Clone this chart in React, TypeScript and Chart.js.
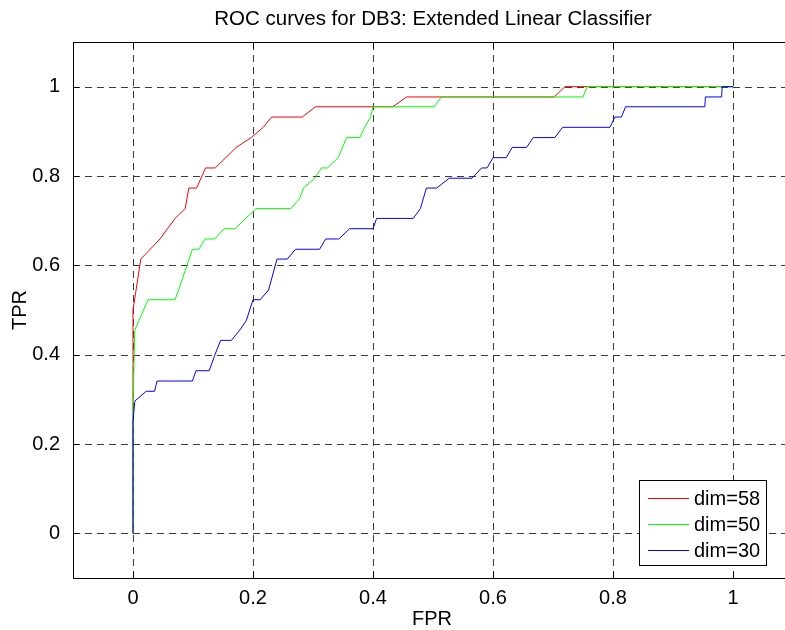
import { useEffect, useRef } from "react";
import { Chart, registerables } from "chart.js";

Chart.register(...registerables);

const TITLE = "ROC curves for DB3: Extended Linear Classifier";
const X_LABEL = "FPR";
const Y_LABEL = "TPR";
const X_TICKS = [0, 0.2, 0.4, 0.6, 0.8, 1];
const Y_TICKS = [0, 0.2, 0.4, 0.6, 0.8, 1];
const X_MIN = -0.1;
const X_MAX = 1.1;
const Y_MIN = -0.1;
const Y_MAX = 1.1;

const SERIES_NAMES = ["dim=58", "dim=50", "dim=30"];
const SERIES_COLORS = ["#ff0000", "#00ff00", "#0000ff"];

const FPR_58 = [0, 0, 0.013, 0.045, 0.07, 0.087, 0.093, 0.106, 0.121, 0.137, 0.172, 0.197, 0.217, 0.231, 0.282, 0.304, 0.433, 0.456, 0.702, 0.72, 1];
const TPR_58 = [0, 0.5, 0.614, 0.659, 0.705, 0.727, 0.773, 0.773, 0.818, 0.818, 0.864, 0.886, 0.909, 0.932, 0.932, 0.955, 0.955, 0.977, 0.977, 1, 1];

const FPR_50 = [0, 0, 0.003, 0.025, 0.07, 0.076, 0.09, 0.099, 0.11, 0.12, 0.136, 0.152, 0.17, 0.205, 0.263, 0.278, 0.284, 0.303, 0.314, 0.324, 0.342, 0.356, 0.378, 0.386, 0.396, 0.4, 0.502, 0.514, 0.75, 0.757, 1];
const TPR_50 = [0, 0.29, 0.455, 0.523, 0.523, 0.545, 0.6, 0.636, 0.636, 0.659, 0.659, 0.682, 0.682, 0.727, 0.727, 0.75, 0.773, 0.795, 0.818, 0.818, 0.841, 0.886, 0.886, 0.909, 0.932, 0.955, 0.955, 0.977, 0.977, 1, 1];

const FPR_30 = [0, 0, 0.003, 0.022, 0.036, 0.04, 0.099, 0.105, 0.127, 0.136, 0.146, 0.164, 0.178, 0.189, 0.2, 0.212, 0.226, 0.24, 0.257, 0.271, 0.311, 0.321, 0.343, 0.361, 0.4, 0.406, 0.467, 0.479, 0.489, 0.506, 0.527, 0.565, 0.581, 0.59, 0.6, 0.622, 0.632, 0.656, 0.667, 0.703, 0.716, 0.795, 0.803, 0.814, 0.821, 0.953, 0.954, 0.981, 0.982, 1];
const TPR_30 = [0, 0.25, 0.296, 0.318, 0.318, 0.341, 0.341, 0.364, 0.364, 0.398, 0.432, 0.432, 0.455, 0.477, 0.523, 0.523, 0.545, 0.614, 0.614, 0.636, 0.636, 0.659, 0.659, 0.682, 0.682, 0.705, 0.705, 0.727, 0.773, 0.773, 0.795, 0.795, 0.818, 0.818, 0.841, 0.841, 0.864, 0.864, 0.886, 0.886, 0.909, 0.909, 0.932, 0.932, 0.955, 0.955, 0.977, 0.977, 1, 1];

const FONT_FAMILY = '"Liberation Sans", Arial, Helvetica, sans-serif';
const FONT_SIZE = 20;
const TITLE_SIZE = 20.5;

const toPoints = (xs: number[], ys: number[]) => xs.map((x, i) => ({ x, y: ys[i] }));

// Axes frame in the style of a classic plotting package: dashed grid,
// boxed axes with inward ticks, a boxed legend in the lower right.
const framePlugin = {
  id: "frame",
  beforeDatasetsDraw(chart: any) {
    const { ctx, chartArea, scales } = chart;
    const { left, right, top, bottom } = chartArea;
    ctx.save();
    ctx.strokeStyle = "#3a3a3a";
    ctx.lineWidth = 1;
    ctx.setLineDash([7, 5]);
    X_TICKS.forEach((v) => {
      const px = Math.round(scales.x.getPixelForValue(v)) + 0.5;
      ctx.beginPath();
      ctx.moveTo(px, bottom);
      ctx.lineTo(px, top);
      ctx.stroke();
    });
    Y_TICKS.forEach((v) => {
      const py = Math.round(scales.y.getPixelForValue(v)) + 0.5;
      ctx.beginPath();
      ctx.moveTo(left, py);
      ctx.lineTo(right, py);
      ctx.stroke();
    });
    ctx.restore();
  },
  afterDatasetsDraw(chart: any) {
    const { ctx, chartArea, scales } = chart;
    const { left, right, top, bottom } = chartArea;
    ctx.save();
    ctx.setLineDash([]);
    ctx.strokeStyle = "#000";
    ctx.lineWidth = 1;
    ctx.strokeRect(left + 0.5, top + 0.5, right - left, bottom - top);

    const tick = 6;
    X_TICKS.forEach((v) => {
      const px = Math.round(scales.x.getPixelForValue(v)) + 0.5;
      ctx.beginPath();
      ctx.moveTo(px, bottom);
      ctx.lineTo(px, bottom - tick);
      ctx.moveTo(px, top);
      ctx.lineTo(px, top + tick);
      ctx.stroke();
    });
    Y_TICKS.forEach((v) => {
      const py = Math.round(scales.y.getPixelForValue(v)) + 0.5;
      ctx.beginPath();
      ctx.moveTo(left, py);
      ctx.lineTo(left + tick, py);
      ctx.moveTo(right, py);
      ctx.lineTo(right - tick, py);
      ctx.stroke();
    });

    // legend box
    const boxW = 127;
    const boxH = 85;
    const boxR = right - 27;
    const boxB = bottom - 13;
    const bx = boxR - boxW;
    const by = boxB - boxH;
    ctx.fillStyle = "#fff";
    ctx.fillRect(bx, by, boxW, boxH);
    ctx.strokeStyle = "#000";
    ctx.strokeRect(bx + 0.5, by + 0.5, boxW, boxH);
    ctx.font = `${FONT_SIZE}px ${FONT_FAMILY}`;
    ctx.textAlign = "left";
    ctx.textBaseline = "middle";
    SERIES_NAMES.forEach((name, i) => {
      const y = by + 18 + i * 26;
      ctx.strokeStyle = SERIES_COLORS[i];
      ctx.beginPath();
      ctx.moveTo(bx + 9, y + 0.5);
      ctx.lineTo(bx + 50, y + 0.5);
      ctx.stroke();
      ctx.fillStyle = "#000";
      ctx.fillText(name, bx + 55, y + 1);
    });
    ctx.restore();
  },
  afterDraw(chart: any) {
    const { ctx, chartArea } = chart;
    const { left, right, top, bottom } = chartArea;
    ctx.save();
    ctx.fillStyle = "#000";
    ctx.textAlign = "center";
    ctx.textBaseline = "middle";
    const cx = (left + right) / 2;
    ctx.font = `${TITLE_SIZE}px ${FONT_FAMILY}`;
    ctx.fillText(TITLE, cx, 19);
    ctx.font = `${FONT_SIZE}px ${FONT_FAMILY}`;
    ctx.fillText(X_LABEL, cx - 1, 619);
    ctx.translate(20, (top + bottom) / 2);
    ctx.rotate(-Math.PI / 2);
    ctx.fillText(Y_LABEL, 0, 0);
    ctx.restore();
  },
};

export default function App() {
  const canvasRef = useRef<HTMLCanvasElement | null>(null);

  useEffect(() => {
    document.body.style.margin = "0";
    const canvas = canvasRef.current;
    if (!canvas) return;
    const tickFont = { family: FONT_FAMILY, size: FONT_SIZE };
    const chart = new Chart(canvas, {
      type: "line",
      data: {
        datasets: [
          {
            label: SERIES_NAMES[0],
            data: toPoints(FPR_58, TPR_58),
            borderColor: SERIES_COLORS[0],
            borderWidth: 1,
            pointRadius: 0,
            tension: 0,
            order: 3,
          },
          {
            label: SERIES_NAMES[1],
            data: toPoints(FPR_50, TPR_50),
            borderColor: SERIES_COLORS[1],
            borderWidth: 1,
            pointRadius: 0,
            tension: 0,
            order: 2,
          },
          {
            label: SERIES_NAMES[2],
            data: toPoints(FPR_30, TPR_30),
            borderColor: SERIES_COLORS[2],
            borderWidth: 1,
            pointRadius: 0,
            tension: 0,
            order: 1,
          },
        ],
      },
      options: {
        animation: false,
        responsive: false,
        devicePixelRatio: 1,
        layout: { padding: { top: 42, right: 7, left: 0, bottom: 0 } },
        plugins: {
          legend: { display: false },
          title: { display: false },
          tooltip: { enabled: false },
        },
        scales: {
          x: {
            type: "linear",
            min: X_MIN,
            max: X_MAX,
            afterBuildTicks: (s: any) => {
              s.ticks = X_TICKS.map((value) => ({ value }));
            },
            afterFit: (s: any) => {
              s.height = 52;
            },
            grid: { display: false },
            border: { display: false },
            ticks: {
              font: tickFont,
              color: "#000",
              padding: 0,
              maxRotation: 0,
              autoSkip: false,
              callback: (v: any) => String(v),
            },
          },
          y: {
            type: "linear",
            min: Y_MIN,
            max: Y_MAX,
            afterBuildTicks: (s: any) => {
              s.ticks = Y_TICKS.map((value) => ({ value }));
            },
            afterFit: (s: any) => {
              s.width = 73;
            },
            grid: { display: false },
            border: { display: false },
            ticks: {
              font: tickFont,
              color: "#000",
              padding: 5,
              autoSkip: false,
              callback: (v: any) => String(v),
            },
          },
        },
      },
      plugins: [framePlugin],
    } as any);
    return () => chart.destroy();
  }, []);

  return (
    <div style={{ width: 785, height: 630, overflow: "hidden", background: "#fff", position: "relative" }}>
      <canvas ref={canvasRef} width={800} height={630} style={{ display: "block" }} />
    </div>
  );
}
